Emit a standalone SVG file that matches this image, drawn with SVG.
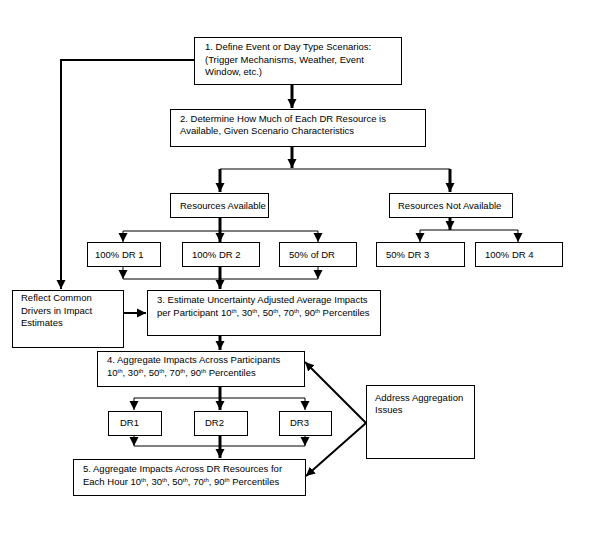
<svg xmlns="http://www.w3.org/2000/svg" width="606" height="535" viewBox="0 0 606 535">
<style>
.box{fill:#fff;stroke:#000;stroke-width:1}
text{font-family:"Liberation Sans",Arial,sans-serif;font-size:9.5px;fill:#000}
.sup{font-size:6px}
.thick{fill:none;stroke:#000;stroke-width:3}
.med{fill:none;stroke:#000;stroke-width:2}
.thin{fill:none;stroke:#000;stroke-width:1}
</style>
<defs>
<marker id="ah" markerUnits="userSpaceOnUse" markerWidth="10" markerHeight="10" refX="9" refY="5" orient="auto">
<path d="M0,0.5 L9,5 L0,9.5 Z" fill="#000"/>
</marker>
</defs>
<rect width="606" height="535" fill="#fff"/>
<g id="connectors">
<path class="med" d="M194,60 H61 V289" marker-end="url(#ah)"/>
<path class="thick" d="M292,85 V108" marker-end="url(#ah)"/>
<path class="thick" d="M292,147 V168" marker-end="url(#ah)"/>
<path class="thin" d="M220,169 H450"/>
<path class="thick" d="M220,169 V192" marker-end="url(#ah)"/>
<path class="thick" d="M450,169 V192" marker-end="url(#ah)"/>
<path class="thick" d="M220,217 V242" marker-end="url(#ah)"/>
<path class="thin" d="M123,231 H318"/>
<path class="thin" d="M123,231 V242" marker-end="url(#ah)"/>
<path class="thin" d="M318,231 V242" marker-end="url(#ah)"/>
<path class="thick" d="M450,217 V230" marker-end="url(#ah)"/>
<path class="thin" d="M420,230 H518"/>
<path class="thin" d="M420,230 V242" marker-end="url(#ah)"/>
<path class="thin" d="M518,230 V242" marker-end="url(#ah)"/>
<path class="thin" d="M123,266 V279" marker-end="url(#ah)"/>
<path class="thin" d="M318,266 V279" marker-end="url(#ah)"/>
<path class="thin" d="M123,279 H318"/>
<path class="thick" d="M220,266 V289" marker-end="url(#ah)"/>
<path class="med" d="M123,313 H146" marker-end="url(#ah)"/>
<path class="thick" d="M220,335 V350" marker-end="url(#ah)"/>
<path class="thick" d="M220,386 V410" marker-end="url(#ah)"/>
<path class="thin" d="M134,398 H305"/>
<path class="thin" d="M134,398 V410" marker-end="url(#ah)"/>
<path class="thin" d="M305,398 V410" marker-end="url(#ah)"/>
<path class="thin" d="M134,435 V446" marker-end="url(#ah)"/>
<path class="thin" d="M305,435 V446" marker-end="url(#ah)"/>
<path class="thin" d="M134,446 H305"/>
<path class="thick" d="M220,435 V458" marker-end="url(#ah)"/>
<path class="med" d="M366,423 L305,362" marker-end="url(#ah)"/>
<path class="med" d="M366,423 L306,476" marker-end="url(#ah)"/>
</g>
<g id="n1">
<rect class="box" x="194.5" y="37.5" width="207" height="47"/>
<text x="205" y="50">1.  Define Event or Day Type Scenarios:</text>
<text x="205" y="63">(Trigger Mechanisms, Weather, Event</text>
<text x="205" y="75">Window, etc.)</text>
</g>
<g id="n2">
<rect class="box" x="170.5" y="109.5" width="255" height="37"/>
<text x="180" y="122">2.  Determine How Much of Each DR Resource is</text>
<text x="180" y="134">Available, Given Scenario Characteristics</text>
</g>
<g id="ra">
<rect class="box" x="170.5" y="193.5" width="98" height="24"/>
<text x="180" y="209">Resources Available</text>
</g>
<g id="rna">
<rect class="box" x="389.5" y="193.5" width="123" height="24"/>
<text x="398" y="209">Resources Not Available</text>
</g>
<g id="dr1a">
<rect class="box" x="87.5" y="242.5" width="73" height="24"/>
<text x="95" y="258">100% DR 1</text>
</g>
<g id="dr2a">
<rect class="box" x="182.5" y="242.5" width="77" height="24"/>
<text x="192" y="258">100% DR 2</text>
</g>
<g id="dr50">
<rect class="box" x="279.5" y="242.5" width="77" height="24"/>
<text x="289" y="258">50% of DR</text>
</g>
<g id="dr3a">
<rect class="box" x="376.5" y="242.5" width="88" height="24"/>
<text x="386" y="258">50% DR 3</text>
</g>
<g id="dr4a">
<rect class="box" x="475.5" y="242.5" width="87" height="24"/>
<text x="485" y="258">100% DR 4</text>
</g>
<g id="reflect">
<rect class="box" x="12.5" y="290.5" width="111" height="57"/>
<text x="21" y="301">Reflect Common</text>
<text x="21" y="314">Drivers in Impact</text>
<text x="21" y="326">Estimates</text>
</g>
<g id="n3">
<rect class="box" x="147.5" y="290.5" width="233" height="45"/>
<text x="157" y="303">3.  Estimate Uncertainty Adjusted Average Impacts</text>
<text x="157" y="316">per Participant 10<tspan class="sup" dy="-3">th</tspan><tspan dy="3">, 30</tspan><tspan class="sup" dy="-3">th</tspan><tspan dy="3">, 50</tspan><tspan class="sup" dy="-3">th</tspan><tspan dy="3">, 70</tspan><tspan class="sup" dy="-3">th</tspan><tspan dy="3">, 90</tspan><tspan class="sup" dy="-3">th</tspan><tspan dy="3"> Percentiles</tspan></text>
</g>
<g id="n4">
<rect class="box" x="97.5" y="351.5" width="207" height="35"/>
<text x="107" y="363">4.  Aggregate Impacts Across Participants</text>
<text x="107" y="376">10<tspan class="sup" dy="-3">th</tspan><tspan dy="3">, 30</tspan><tspan class="sup" dy="-3">th</tspan><tspan dy="3">, 50</tspan><tspan class="sup" dy="-3">th</tspan><tspan dy="3">, 70</tspan><tspan class="sup" dy="-3">th</tspan><tspan dy="3">, 90</tspan><tspan class="sup" dy="-3">th</tspan><tspan dy="3"> Percentiles</tspan></text>
</g>
<g id="dr1">
<rect class="box" x="108.5" y="411.5" width="53" height="24"/>
<text x="120" y="426">DR1</text>
</g>
<g id="dr2">
<rect class="box" x="194.5" y="411.5" width="53" height="24"/>
<text x="205" y="426">DR2</text>
</g>
<g id="dr3">
<rect class="box" x="279.5" y="411.5" width="52" height="24"/>
<text x="290" y="426">DR3</text>
</g>
<g id="address">
<rect class="box" x="366.5" y="385.5" width="108" height="73"/>
<text x="375" y="401">Address Aggregation</text>
<text x="375" y="413">Issues</text>
</g>
<g id="n5">
<rect class="box" x="73.5" y="459.5" width="232" height="36"/>
<text x="83" y="472">5.  Aggregate Impacts Across DR Resources for</text>
<text x="83" y="485">Each Hour 10<tspan class="sup" dy="-3">th</tspan><tspan dy="3">, 30</tspan><tspan class="sup" dy="-3">th</tspan><tspan dy="3">, 50</tspan><tspan class="sup" dy="-3">th</tspan><tspan dy="3">, 70</tspan><tspan class="sup" dy="-3">th</tspan><tspan dy="3">, 90</tspan><tspan class="sup" dy="-3">th</tspan><tspan dy="3"> Percentiles</tspan></text>
</g>
</svg>
